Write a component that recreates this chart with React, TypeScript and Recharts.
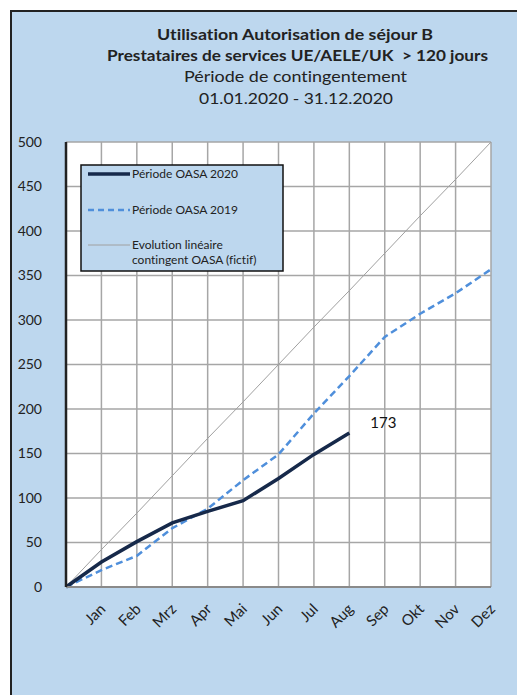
import React from 'react';
import {
  LineChart, Line, XAxis, YAxis, CartesianGrid, Legend,
} from 'recharts';

const months = ['', 'Jan', 'Feb', 'Mrz', 'Apr', 'Mai', 'Jun', 'Jul', 'Aug', 'Sep', 'Okt', 'Nov', 'Dez'];
const oasa2020 = [0, 28, 51, 72, 85, 97, 122, 149, 173, null, null, null, null];
const oasa2019 = [0, 19, 35, 66, 88, 120, 149, 195, 237, 281, 307, 330, 357];
const linearQuota = [0, 42, 83, 125, 167, 208, 250, 292, 333, 375, 417, 458, 500];
const yTicks = [0, 50, 100, 150, 200, 250, 300, 350, 400, 450, 500];
const xTicks = [1, 2, 3, 4, 5, 6, 7, 8, 9, 10, 11, 12];
const titleLines = [
  'Utilisation Autorisation de séjour B',
  'Prestataires de services UE/AELE/UK  > 120 jours',
  'Période de contingentement',
  '01.01.2020 - 31.12.2020',
];
const legendNames = ['Période OASA 2020', 'Période OASA 2019', 'Evolution linéaire', 'contingent OASA (fictif)'];

const data = months.map((m, i) => ({
  idx: i,
  month: m,
  o2020: oasa2020[i],
  o2019: oasa2019[i],
  lin: linearQuota[i],
}));

const FONT = 'Lato, "Open Sans", sans-serif';
const BG = '#BDD7EE';
const NAVY = '#16294A';
const DASH = '#4F8FDB';
const GRID = '#A6A6A6';
const noLig = { fontVariantLigatures: 'none' as const, whiteSpace: 'pre' as const };

const XTick = (props: any) => {
  const { x, y, payload } = props;
  return (
    <text
      x={x + 5}
      y={y + 15}
      transform={`rotate(-45 ${x + 5} ${y + 15})`}
      textAnchor="end"
      fontFamily={FONT}
      fontSize={15}
      fill="#222"
    >
      {months[payload.value]}
    </text>
  );
};

const LegendBox = () => (
  <svg width={204} height={108} style={{ display: 'block' }}>
    <rect x={1} y={1} width={202} height={106} fill={BG} stroke="#111" strokeWidth={1.5} />
    <line x1={8} x2={50} y1={10} y2={10} stroke={NAVY} strokeWidth={3.5} />
    <text x={52} y={14} fontFamily={FONT} fontSize={12} fill="#222">{legendNames[0]}</text>
    <line x1={8} x2={50} y1={46} y2={46} stroke={DASH} strokeWidth={2.5} strokeDasharray="6 4" />
    <text x={52} y={50} fontFamily={FONT} fontSize={12} fill="#222">{legendNames[1]}</text>
    <line x1={8} x2={50} y1={81} y2={81} stroke="#A0A0A0" strokeWidth={1} />
    <text x={52} y={85} fontFamily={FONT} fontSize={12} fill="#222" style={noLig}>{legendNames[2]}</text>
    <text x={52} y={100} fontFamily={FONT} fontSize={12} fill="#222" style={noLig}>{legendNames[3]}</text>
  </svg>
);

const lastLabel = (props: any) => {
  const { x, y, index, value } = props;
  if (index !== 8 || value == null) return null;
  return (
    <text x={x + 34} y={y - 5} textAnchor="middle" fontFamily={FONT} fontSize={15} fill="#111">
      {value}
    </text>
  );
};

export default function App() {
  return (
    <div>
      <div
        style={{
          position: 'absolute', left: 10, top: 10, width: 507, height: 685,
          background: BG, borderLeft: '2px solid #222', borderTop: '2px solid #222',
          boxSizing: 'border-box',
        }}
      />
      <svg style={{ position: 'absolute', left: 0, top: 0 }} width={517} height={120}>
        <text x={157} y={40} textLength={276} lengthAdjust="spacingAndGlyphs" fontFamily={FONT} fontWeight="bold" fontSize={16} fill="#222" style={noLig}>{titleLines[0]}</text>
        <text x={107} y={61} textLength={381} lengthAdjust="spacingAndGlyphs" fontFamily={FONT} fontWeight="bold" fontSize={16} fill="#222" style={noLig}>{titleLines[1]}</text>
        <text x={184} y={82} textLength={223} lengthAdjust="spacingAndGlyphs" fontFamily={FONT} fontSize={16} fill="#222" style={noLig}>{titleLines[2]}</text>
        <text x={199} y={104} textLength={194} lengthAdjust="spacingAndGlyphs" fontFamily={FONT} fontSize={16} fill="#222" style={noLig}>{titleLines[3]}</text>
      </svg>
      <div style={{ position: 'absolute', left: 0, top: 0 }}>
        <LineChart
          width={517}
          height={695}
          data={data}
          margin={{ top: 142, right: 26, bottom: 68, left: 6 }}
        >
          <CartesianGrid stroke={GRID} strokeWidth={1.5} fill="#fff" horizontal vertical />
          <XAxis
            dataKey="idx"
            type="number"
            domain={[0, 12]}
            ticks={xTicks}
            interval={0}
            height={40}
            tick={<XTick />}
            tickLine={false}
            axisLine={{ stroke: '#8a8a8a', strokeWidth: 2 }}
          />
          <XAxis
            xAxisId="top"
            orientation="top"
            type="number"
            domain={[0, 12]}
            height={0}
            tick={false}
            tickLine={false}
            axisLine={{ stroke: '#222', strokeWidth: 2 }}
          />
          <YAxis
            domain={[0, 500]}
            ticks={yTicks}
            width={60}
            tickSize={0}
            tickMargin={24}
            tickLine={false}
            axisLine={{ stroke: '#222', strokeWidth: 2.5 }}
            tick={{ fontFamily: FONT, fontSize: 14, fill: '#222' }}
          />
          <YAxis
            yAxisId="right"
            orientation="right"
            domain={[0, 500]}
            width={0}
            tick={false}
            tickLine={false}
            axisLine={{ stroke: '#222', strokeWidth: 2 }}
          />
          <Legend
            layout="vertical"
            align="center"
            verticalAlign="middle"
            content={() => <LegendBox />}
            wrapperStyle={{ position: 'absolute', left: 80, top: 164, width: 204, height: 108 }}
          />
          <Line
            dataKey="lin"
            stroke="#A0A0A0"
            strokeWidth={1}
            dot={false}
            isAnimationActive={false}
          />
          <Line
            dataKey="o2019"
            stroke={DASH}
            strokeWidth={2.5}
            strokeDasharray="7 4"
            dot={false}
            isAnimationActive={false}
          />
          <Line
            dataKey="o2020"
            stroke={NAVY}
            strokeWidth={3.5}
            dot={false}
            connectNulls={false}
            label={lastLabel}
            isAnimationActive={false}
          />
        </LineChart>
      </div>
    </div>
  );
}
